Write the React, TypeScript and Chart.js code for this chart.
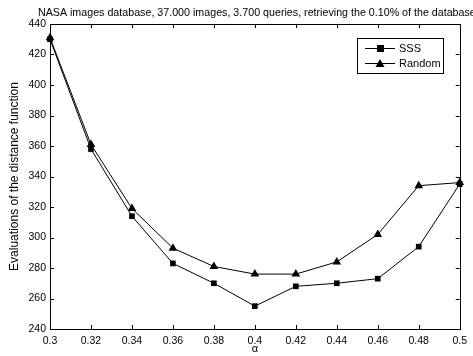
import React, { useEffect, useRef } from "react";
import { Chart, registerables } from "chart.js";

Chart.register(...registerables);

const alphaValues = [0.3, 0.32, 0.34, 0.36, 0.38, 0.4, 0.42, 0.44, 0.46, 0.48, 0.5];
const sssValues = [430, 358, 314, 283, 270, 255, 268, 270, 273, 294, 335];
const randomValues = [431, 361, 319, 293, 281, 276, 276, 284, 302, 334, 336];
const xTicks = [0.3, 0.32, 0.34, 0.36, 0.38, 0.4, 0.42, 0.44, 0.46, 0.48, 0.5];
const yTicks = [240, 260, 280, 300, 320, 340, 360, 380, 400, 420, 440];
const seriesNames = ["SSS", "Random"];
const titleText =
  "NASA images database, 37.000 images, 3.700 queries, retrieving the 0.10% of the database";
const yTitle = "Evaluations of the distance function";
const xTitle = "α";

const FONT = "Arial, 'Liberation Sans', sans-serif";

const framePlugin = {
  id: "frame",
  afterDraw(chart: any) {
    const { ctx, chartArea } = chart;
    const { left, right, top, bottom } = chartArea;
    const xs = chart.scales.x;
    const ys = chart.scales.y;
    ctx.save();
    ctx.strokeStyle = "#000";
    ctx.lineWidth = 1;
    ctx.strokeRect(Math.round(left) + 0.5, Math.round(top) + 0.5, Math.round(right - left), Math.round(bottom - top));
    const tl = 4;
    ctx.beginPath();
    xTicks.forEach((v) => {
      const px = Math.round(xs.getPixelForValue(v)) + 0.5;
      ctx.moveTo(px, bottom);
      ctx.lineTo(px, bottom - tl);
      ctx.moveTo(px, top);
      ctx.lineTo(px, top + tl);
    });
    yTicks.forEach((v) => {
      const py = Math.round(ys.getPixelForValue(v)) + 0.5;
      ctx.moveTo(left, py);
      ctx.lineTo(left + tl, py);
      ctx.moveTo(right, py);
      ctx.lineTo(right - tl, py);
    });
    ctx.stroke();

    // title
    ctx.fillStyle = "#000";
    ctx.font = `10.7px ${FONT}`;
    ctx.textAlign = "center";
    ctx.textBaseline = "middle";
    ctx.fillText(titleText, (left + right) / 2 + 2, 13);

    // legend
    const bx = 357, by = 38, bw = 86, bh = 35;
    ctx.fillStyle = "#fff";
    ctx.fillRect(bx, by, bw, bh);
    ctx.strokeRect(bx + 0.5, by + 0.5, bw, bh);
    const rows = [by + 10, by + 25];
    chart.data.datasets.forEach((ds: any, i: number) => {
      const y = rows[i] + 0.5;
      ctx.beginPath();
      ctx.moveTo(365, y);
      ctx.lineTo(395, y);
      ctx.strokeStyle = "#000";
      ctx.stroke();
      ctx.fillStyle = "#000";
      if (ds.pointStyle === "rect") {
        ctx.fillRect(377, y - 3.5, 7, 7);
      } else {
        ctx.beginPath();
        ctx.moveTo(380, y - 4.5);
        ctx.lineTo(384.5, y + 3.5);
        ctx.lineTo(375.5, y + 3.5);
        ctx.closePath();
        ctx.fill();
      }
      ctx.font = `11px ${FONT}`;
      ctx.textAlign = "left";
      ctx.textBaseline = "middle";
      ctx.fillText(ds.label, 399, y);
    });
    ctx.restore();
  },
};

export default function App() {
  const ref = useRef<HTMLCanvasElement>(null);
  useEffect(() => {
    if (!ref.current) return;
    const chart = new Chart(ref.current, {
      type: "line",
      data: {
        datasets: [
          {
            label: seriesNames[0],
            data: alphaValues.map((x, i) => ({ x, y: sssValues[i] })),
            borderColor: "#000",
            backgroundColor: "#000",
            borderWidth: 1,
            pointStyle: "rect",
            pointRadius: 4,
            pointBorderWidth: 0,
            tension: 0,
            clip: false,
          },
          {
            label: seriesNames[1],
            data: alphaValues.map((x, i) => ({ x, y: randomValues[i] })),
            borderColor: "#000",
            backgroundColor: "#000",
            borderWidth: 1,
            pointStyle: "triangle",
            pointRadius: 5,
            pointBorderWidth: 0,
            tension: 0,
            clip: false,
          },
        ],
      },
      options: {
        animation: false,
        responsive: false,
        maintainAspectRatio: false,
        layout: { padding: { top: 24, right: 13, left: 0, bottom: 0 } },
        plugins: {
          legend: { display: false },
          title: { display: false },
          tooltip: { enabled: false },
        },
        scales: {
          x: {
            type: "linear",
            min: 0.3,
            max: 0.5,
            grid: { display: false, drawTicks: false },
            border: { display: false },
            afterBuildTicks: (s: any) => {
              s.ticks = xTicks.map((v) => ({ value: v }));
            },
            afterFit: (s: any) => {
              s.height = 27;
            },
            ticks: {
              color: "#000",
              font: { size: 10.5, family: FONT },
              padding: 6,
              maxRotation: 0,
              autoSkip: false,
              callback: (v: any) => String(Number(v)),
            },
            title: {
              display: true,
              text: xTitle,
              color: "#000",
              font: { size: 11, family: FONT },
              padding: { top: 4, bottom: 0 },
            },
          },
          y: {
            type: "linear",
            min: 240,
            max: 440,
            grid: { display: false, drawTicks: false },
            border: { display: false },
            afterBuildTicks: (s: any) => {
              s.ticks = yTicks.map((v) => ({ value: v }));
            },
            afterFit: (s: any) => {
              s.width = 50;
            },
            ticks: {
              color: "#000",
              font: { size: 10.5, family: FONT },
              padding: 4,
              autoSkip: false,
            },
            title: {
              display: true,
              text: yTitle,
              color: "#000",
              font: { size: 12, family: FONT },
              padding: { top: 7, bottom: 0 },
            },
          },
        },
      },
      plugins: [framePlugin],
    });
    return () => chart.destroy();
  }, []);
  return (
    <div style={{ position: "fixed", left: 0, top: 0, width: 473, height: 356, background: "#fff" }}>
      <canvas ref={ref} width={473} height={356} style={{ width: 473, height: 356 }} />
    </div>
  );
}
